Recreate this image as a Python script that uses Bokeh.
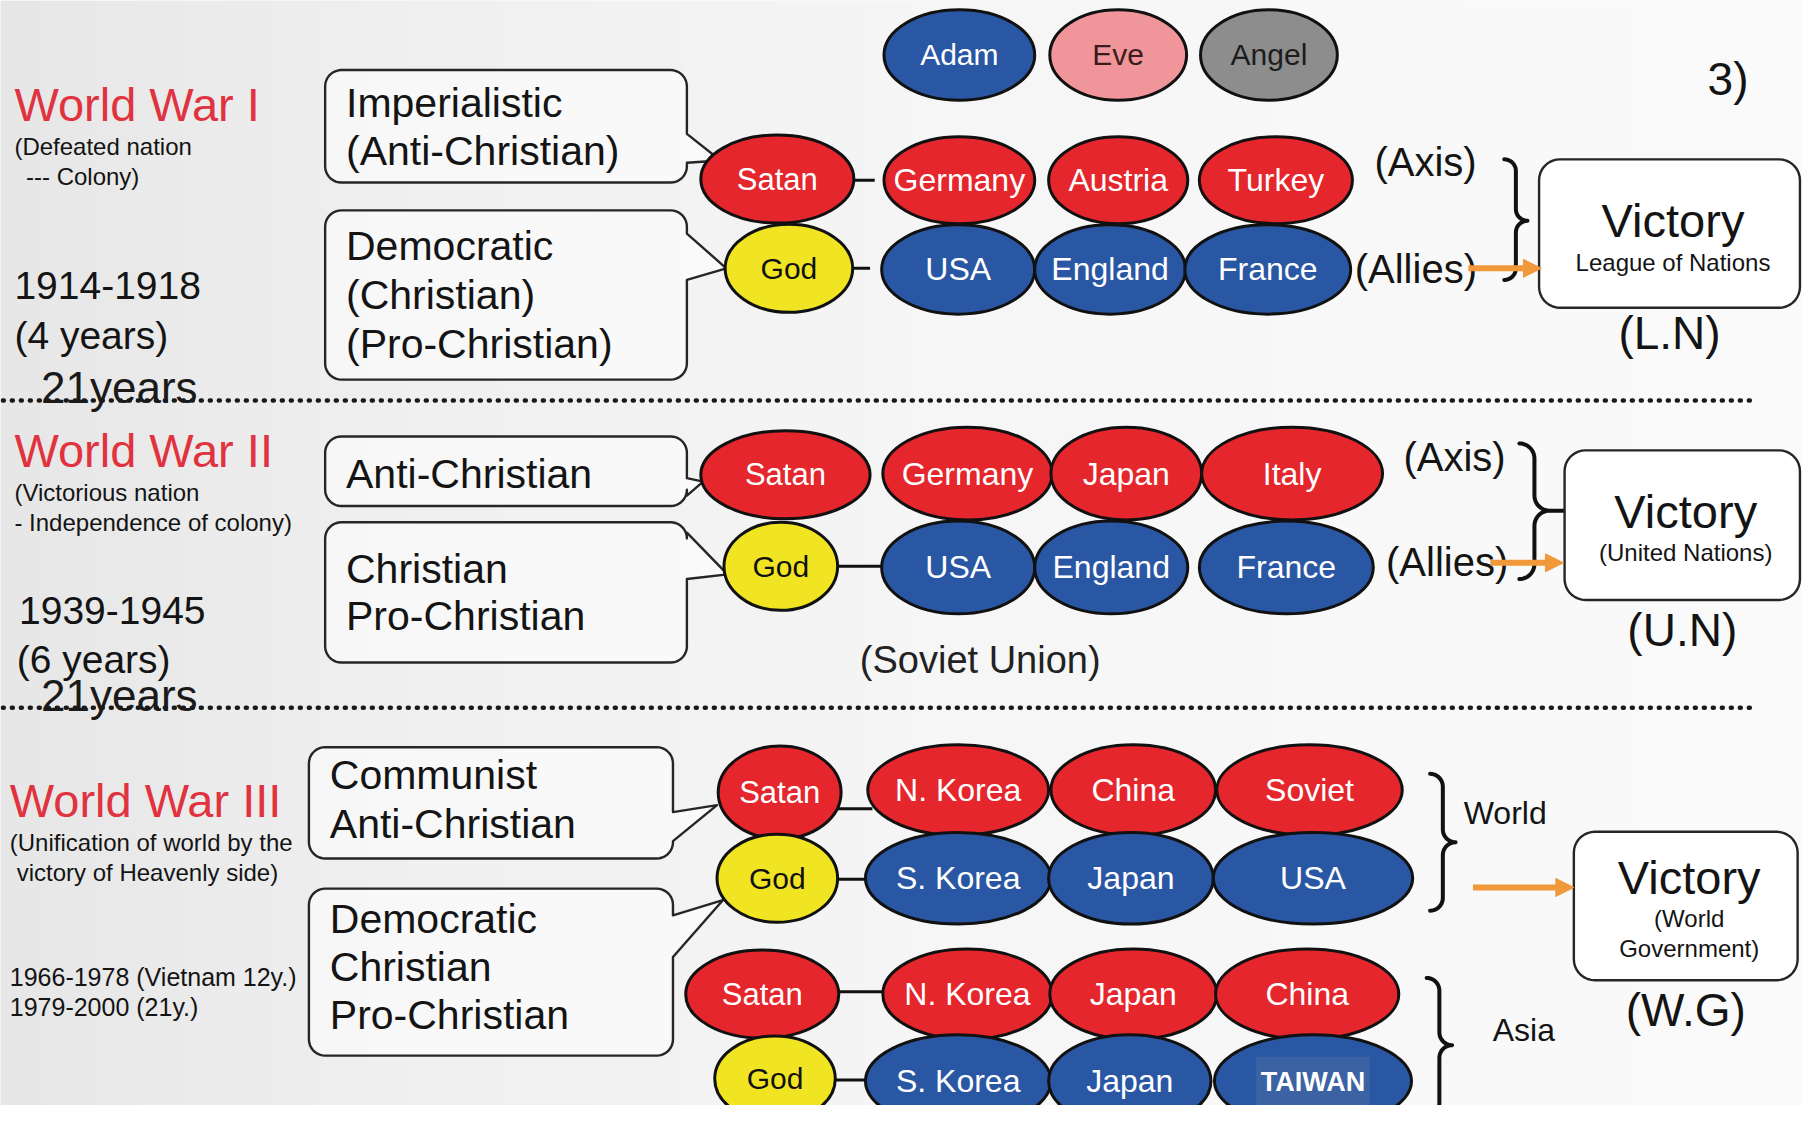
import numpy as np
from bokeh.plotting import figure
from bokeh.models import Range1d, Arrow, NormalHead
from bokeh.embed import file_html
from bokeh.resources import INLINE
from bokeh.core.properties import value

# ---------------- data (texts of the diagram) ----------------
war_titles = ["World War I", "World War II", "World War III"]
war_notes = [["(Defeated nation", "--- Colony)"],
             ["(Victorious nation", "- Independence of colony)"],
             ["(Unification of world by the", "victory of Heavenly side)"]]
war_periods = [["1914-1918", "(4 years)"],
               ["1939-1945", "(6 years)"],
               ["1966-1978 (Vietnam 12y.)", "1979-2000 (21y.)"]]
interval_label = "21years"
origin_names = ["Adam", "Eve", "Angel"]
ww1_side_labels = [["Imperialistic", "(Anti-Christian)"],
                   ["Democratic", "(Christian)", "(Pro-Christian)"]]
ww2_side_labels = [["Anti-Christian"], ["Christian", "Pro-Christian"]]
ww3_side_labels = [["Communist", "Anti-Christian"],
                   ["Democratic", "Christian", "Pro-Christian"]]
satan_label, god_label = "Satan", "God"
ww1_axis = ["Germany", "Austria", "Turkey"]
ww1_allies = ["USA", "England", "France"]
ww2_axis = ["Germany", "Japan", "Italy"]
ww2_allies = ["USA", "England", "France"]
ww3_world_red = ["N. Korea", "China", "Soviet"]
ww3_world_blue = ["S. Korea", "Japan", "USA"]
ww3_asia_red = ["N. Korea", "Japan", "China"]
ww3_asia_blue = ["S. Korea", "Japan", "TAIWAN"]
bloc_labels = [["(Axis)", "(Allies)"], ["(Axis)", "(Allies)"], ["World", "Asia"]]
victory_main = "Victory"
victory_subs = [["League of Nations"], ["(United Nations)"], ["(World", "Government)"]]
victory_abbr = ["(L.N)", "(U.N)", "(W.G)"]
page_number = "3)"
soviet_note = "(Soviet Union)"

# ---------------- styles ----------------
RED, BLUE, YELLOW, PINK, GRAY = "#e5262c", "#2a57a4", "#f1e523", "#f0969b", "#8d8d8d"
ORANGE = "#f0983a"
TITLE_RED = "#e0333f"
FONT = value("Liberation Sans")

S = 1818 / 1568          # data units are reference-view pixels
W, H = 1802, 1105

p = figure(width=W, height=H, x_range=Range1d(0, W / S),
           y_range=Range1d(H / S, 0), output_backend="svg",
           toolbar_location=None, min_border=0)
p.axis.visible = False
p.grid.visible = False
p.outline_line_color = None
p.background_fill_color = "#f5f5f5"
p.border_fill_color = "#f5f5f5"

# soft background gradient (left grey -> right white)
edges = np.linspace(0, 1570, 41)
shade = np.interp((edges[:-1] + edges[1:]) / 2, [0, 300, 800, 1570], [231, 239, 246, 251])
p.quad(left=edges[:-1], right=edges[1:] + 0.5, top=0, bottom=1000,
       fill_color=["#%02x%02x%02x" % (int(c), int(c), int(c)) for c in shade],
       line_color=None)


def txt(x, y, s, size, color="#141414", align="left", style="normal"):
    p.text(x=[x], y=[y], text=[s], text_font=FONT, text_font_size=f"{size}px",
           text_color=color, text_align=align, text_baseline="middle",
           text_font_style=style)


def callout(x0, y0, x1, y1, pa, tip, pb, r=14):
    t = np.linspace(0, np.pi / 2, 10)
    xs, ys = [], []

    def arc(cx, cy, a0):
        xs.extend(cx + r * np.cos(a0 + t))
        ys.extend(cy + r * np.sin(a0 + t))
    arc(x0 + r, y0 + r, np.pi)
    arc(x1 - r, y0 + r, 1.5 * np.pi)
    xs.extend([x1, tip[0], x1]); ys.extend([pa, tip[1], pb])
    arc(x1 - r, y1 - r, 0)
    arc(x0 + r, y1 - r, 0.5 * np.pi)
    p.patch(xs, ys, fill_color="white", fill_alpha=0.55, line_color="#262626",
            line_width=2.4, line_join="round")


def rbox(x0, y0, x1, y1, r=18):
    t = np.linspace(0, np.pi / 2, 10)
    xs, ys = [], []
    for cx, cy, a0 in [(x0 + r, y0 + r, np.pi), (x1 - r, y0 + r, 1.5 * np.pi),
                       (x1 - r, y1 - r, 0), (x0 + r, y1 - r, 0.5 * np.pi)]:
        xs.extend(cx + r * np.cos(a0 + t)); ys.extend(cy + r * np.sin(a0 + t))
    p.patch(xs, ys, fill_color="white", line_color="#262626", line_width=2.4)


def brace(x, yt, yb, ym, w, tick=None):
    r = w / 2
    t = np.linspace(0, np.pi / 2, 12)
    xs = np.concatenate([x + r * np.sin(t), x + 2 * r - r * np.cos(t),
                         x + 2 * r - r * np.sin(t), x + r * np.cos(t)])
    ys = np.concatenate([yt + r - r * np.cos(t), ym - r + r * np.sin(t),
                         ym + r - r * np.cos(t), yb - r + r * np.sin(t)])
    p.line(xs, ys, line_color="#111111", line_width=4, line_join="round", line_cap="round")
    if tick:
        p.line([x + 2 * r, tick], [ym, ym], line_color="#111111", line_width=4)


def arrow(x0, x1, y):
    p.add_layout(Arrow(end=NormalHead(size=18, fill_color=ORANGE, line_color=ORANGE),
                       x_start=x0, y_start=y, x_end=x1, y_end=y,
                       line_color=ORANGE, line_width=6))


def connector(x0, x1, y):
    p.line([x0, x1], [y, y], line_color="#111111", line_width=3)


def ellipse_row(labels, xs, ws, y, h, fills, tcolors, size=32):
    p.ellipse(x=xs, y=[y] * len(xs), width=ws, height=[h] * len(xs),
              fill_color=fills, line_color="#111111", line_width=3)
    for lab, x, c in zip(labels, xs, tcolors):
        if lab == "TAIWAN":
            p.quad(left=[x - 49], right=[x + 49], top=[y - 21], bottom=[y + 22],
                   fill_color="#3b62a3", line_color=None)
            txt(x, y + 1, lab, 27, c, "center", "bold")
        else:
            txt(x, y, lab, size, c, "center")


# ---------------- left column ----------------
title_pos = [(12, 90), (12, 388), (8, 690)]
note_pos = [[(12, 126), (22, 152)], [(12, 424), (12, 450)], [(8, 726), (14, 752)]]
period_pos = [[(12, 246), (12, 289)], [(16, 526), (14, 568)], [(8, 842), (8, 868)]]
period_size = [39, 39, 25]
for i in range(3):
    txt(*title_pos[i], war_titles[i], 47, TITLE_RED)
    for (x, y), s in zip(note_pos[i], war_notes[i]):
        txt(x, y, s, 24)
    for (x, y), s in zip(period_pos[i], war_periods[i]):
        txt(x, y, s, period_size[i])

# dotted separators with interval label
for ysep in [345, 610]:
    p.line([2, 1510], [ysep, ysep], line_color="#1a1a1a", line_width=4.5,
           line_dash="1 8", line_cap="round")
    txt(35, ysep - 11, interval_label, 44, "#1a1a1a")

# ---------------- callout boxes ----------------
callout(280, 60, 592, 157, 115, (621, 138), 140)
callout(280, 181, 592, 327, 201, (626, 231), 241)
callout(280, 376, 592, 436, 412, (606, 415), 427)
callout(280, 450, 592, 571, 459, (627, 495), 499)
callout(266, 644, 580, 740, 700, (618, 694), 725)
callout(266, 766, 580, 910, 789, (623, 776), 825)

side_text = [(298, [88, 130], ww1_side_labels[0]), (298, [212, 254, 296], ww1_side_labels[1]),
             (298, [408], ww2_side_labels[0]), (298, [490, 531], ww2_side_labels[1]),
             (284, [668, 710], ww3_side_labels[0]), (284, [792, 834, 875], ww3_side_labels[1])]
for x, ys, labs in side_text:
    for y, s in zip(ys, labs):
        txt(x, y, s, 41)

# ---------------- connectors ----------------
connector(734, 754, 155)
connector(720, 750, 231)
connector(718, 762, 488)
connector(722, 752, 697)
connector(718, 750, 758)
connector(720, 764, 855)
connector(716, 750, 931)
p.line([612, 622], [966, 955], line_color="#333333", line_width=2)

# ---------------- ellipses ----------------
ellipse_row(origin_names, [827, 964, 1094], [130, 118, 118], 47, 78,
            [BLUE, PINK, GRAY], ["white", "#3b1c1c", "#1c1c1c"], 30)
# WW I
ellipse_row([satan_label], [670], [132], 154, 76, [RED], ["white"], 31)
ellipse_row(ww1_axis, [827, 964, 1100], [130, 120, 132], 155, 75, [RED] * 3, ["white"] * 3)
ellipse_row([god_label], [680], [110], 231, 76, [YELLOW], ["#111111"], 30)
ellipse_row(ww1_allies, [826, 957, 1093], [132, 130, 143], 232, 77, [BLUE] * 3, ["white"] * 3)
# WW II
ellipse_row([satan_label], [677], [146], 409, 76, [RED], ["white"], 31)
ellipse_row(ww2_axis, [834, 971, 1114], [146, 130, 156], 408, 80, [RED] * 3, ["white"] * 3)
ellipse_row([god_label], [673], [98], 488, 76, [YELLOW], ["#111111"], 30)
ellipse_row(ww2_allies, [826, 958, 1109], [132, 132, 150], 489, 80, [BLUE] * 3, ["white"] * 3)
# WW III world
ellipse_row([satan_label], [672], [106], 683, 80, [RED], ["white"], 31)
ellipse_row(ww3_world_red, [826, 977, 1129], [156, 142, 160], 681, 78, [RED] * 3, ["white"] * 3)
ellipse_row([god_label], [670], [104], 757, 76, [YELLOW], ["#111111"], 30)
ellipse_row(ww3_world_blue, [826, 975, 1132], [160, 142, 172], 757, 79, [BLUE] * 3, ["white"] * 3)
# WW III asia
ellipse_row([satan_label], [657], [132], 857, 76, [RED], ["white"], 31)
ellipse_row(ww3_asia_red, [834, 977, 1127], [146, 144, 158], 857, 78, [RED] * 3, ["white"] * 3)
ellipse_row([god_label], [668], [104], 930, 74, [YELLOW], ["#111111"], 30)
ellipse_row(ww3_asia_blue, [826, 974, 1132], [160, 140, 170], 932, 80, [BLUE] * 3, ["white"] * 3)

# ---------------- blocs, braces, arrows ----------------
bloc_pos = [[(1185, 139), (1168, 232)], [(1210, 394), (1195, 484)], [(1262, 701), (1287, 888)]]
bloc_size = [40, 40, 32]
for i in range(3):
    for (x, y), s in zip(bloc_pos[i], bloc_labels[i]):
        txt(x, y, s, bloc_size[i])

brace(1297, 137, 241, 190, 20)
brace(1310, 382, 499, 440, 26, tick=1368)
brace(1233, 667, 785, 726, 22)
brace(1230, 843, 962, 901, 22)

arrow(1266, 1329, 231)
arrow(1285, 1348, 485)
arrow(1270, 1357, 765)

# ---------------- victory boxes ----------------
vboxes = [(1327, 137, 1552, 265), (1349, 388, 1552, 517), (1357, 717, 1550, 845)]
vmain_y = [190, 441, 756]
vsub_y = [[226], [476], [792, 818]]
vabbr_y = [287, 543, 871]
for i, (x0, y0, x1, y1) in enumerate(vboxes):
    rbox(x0, y0, x1, y1)
    cx = (x0 + x1) / 2 + 3
    txt(cx, vmain_y[i], victory_main, 47, "#141414", "center")
    for y, s in zip(vsub_y[i], victory_subs[i]):
        txt(cx, y, s, 24, "#141414", "center")
    txt(cx - 3, vabbr_y[i], victory_abbr[i], 46, "#141414", "center")

txt(1490, 68, page_number, 46, "#141414", "center")
txt(845, 569, soviet_note, 38, "#222222", "center")

open("out.html", "w").write(file_html(p, INLINE))
